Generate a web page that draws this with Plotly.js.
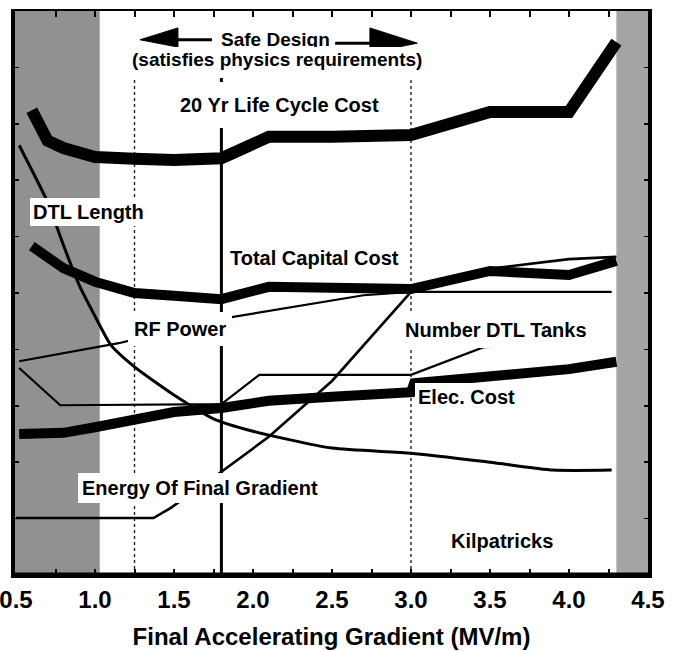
<!DOCTYPE html>
<html>
<head>
<meta charset="utf-8">
<script src="https://cdn.plot.ly/plotly-3.0.1.min.js"></script>
<style>
html,body{margin:0;padding:0;background:#ffffff;}
#chart{width:682px;height:651px;}
</style>
</head>
<body>
<div id="chart"></div>
<script>
// ---- data (x: MV/m, y: relative units, 0 = bottom, 100 = top) ----
const lifeCycleX = [0.6, 0.7, 0.8, 1.0, 1.25, 1.5, 1.8, 2.1, 2.5, 3.0, 3.5, 4.0, 4.3];
const lifeCycleY = [82.4, 77.0, 75.7, 74.1, 73.8, 73.6, 73.9, 77.7, 77.7, 78.0, 82.1, 82.1, 94.5];

const capitalX = [0.6, 0.8, 1.0, 1.25, 1.5, 1.8, 2.1, 2.5, 3.0, 3.5, 4.0, 4.3];
const capitalY = [58.3, 54.4, 52.0, 50.0, 49.5, 48.9, 51.1, 50.9, 50.7, 53.9, 53.2, 55.7];

const elecX = [0.52, 0.8, 1.0, 1.25, 1.5, 1.8, 2.1, 2.5, 3.0, 3.02, 3.5, 4.0, 4.3];
const elecY = [25.0, 25.2, 26.2, 27.5, 28.9, 29.6, 30.9, 31.6, 32.4, 34.0, 35.1, 36.5, 37.8];

const rfX = [0.52, 1.15, 1.75, 2.7, 3.0, 4.27];
const rfY = [37.9, 41.1, 45.2, 49.6, 50.2, 50.2];

const tanksX = [0.52, 0.78, 1.8, 2.04, 3.0, 3.46, 3.96, 4.05];
const tanksY = [36.7, 30.1, 30.3, 35.5, 35.5, 40.4, 40.8, 41.5];

const dtlX = [0.52, 0.6, 0.7, 0.8, 0.9, 1.0, 1.1, 1.25, 1.5, 1.75, 2.0, 2.5, 3.0, 3.5, 3.9, 4.27];
const dtlY = [76.2, 71.8, 66.1, 58.5, 51.4, 45.9, 40.8, 36.9, 31.9, 27.7, 25.5, 22.5, 21.6, 20.0, 18.6, 18.6];

const energyX = [0.5, 1.37, 1.48, 1.8, 2.1, 2.5, 3.0, 3.5, 4.0, 4.3];
const energyY = [10.1, 10.1, 11.9, 18.3, 24.5, 34.4, 50.2, 54.3, 56.0, 56.4];

const tickVals = [0.5, 0.75, 1.0, 1.25, 1.5, 1.75, 2.0, 2.25, 2.5, 2.75, 3.0, 3.25, 3.5, 3.75, 4.0, 4.25, 4.5];
const tickLabels = ['0.5', '', '1.0', '', '1.5', '', '2.0', '', '2.5', '', '3.0', '', '3.5', '', '4.0', '', '4.5'];

const safeDesignX = 1.8;       // solid vertical line
const boundaryX = [1.25, 3.0]; // dotted vertical lines
const shadeLeft = [0.49, 1.03];
const shadeRight = [4.3, 4.5];

// ---- drawing ----
const FONT = 'Liberation Sans, Arial, Helvetica, sans-serif';
const xRange = [0.4937, 4.5];

function line(x, y, w, shape) {
  return {x: x, y: y, type: 'scatter', mode: 'lines',
          line: {color: '#000000', width: w, shape: shape || 'linear', smoothing: 0.6},
          hoverinfo: 'skip', showlegend: false};
}

const traces = [
  line(dtlX, dtlY, 3, 'spline'),
  line(tanksX, tanksY, 2.2),
  line(rfX, rfY, 2.2),
  line(energyX, energyY, 2.6),
  line(elecX, elecY, 10),
  line(capitalX, capitalY, 10),
  line(lifeCycleX, lifeCycleY, 12)
];

const shapes = [
  {type: 'rect', xref: 'x', yref: 'y', x0: shadeLeft[0], x1: shadeLeft[1], y0: 0, y1: 100,
   fillcolor: '#919191', line: {width: 0}, layer: 'below'},
  {type: 'rect', xref: 'x', yref: 'y', x0: shadeRight[0], x1: shadeRight[1], y0: 0, y1: 100,
   fillcolor: '#a4a4a4', line: {width: 0}, layer: 'below'},
  {type: 'line', xref: 'x', yref: 'y', x0: boundaryX[0], x1: boundaryX[0], y0: 0, y1: 88.1,
   line: {color: '#222222', width: 1.4, dash: 'dot'}, layer: 'below'},
  {type: 'line', xref: 'x', yref: 'y', x0: boundaryX[1], x1: boundaryX[1], y0: 0, y1: 88.1,
   line: {color: '#222222', width: 1.4, dash: 'dot'}, layer: 'below'},
  {type: 'line', xref: 'x', yref: 'y', x0: safeDesignX, x1: safeDesignX, y0: 0, y1: 88.1,
   line: {color: '#000000', width: 3}, layer: 'below'},
  // arrows
  {type: 'path', xref: 'x', yref: 'y', path: 'M1.285,94.9 L1.525,97.0 L1.525,93.6 Z',
   fillcolor: '#000000', line: {color: '#000000', width: 1}},
  {type: 'line', xref: 'x', yref: 'y', x0: 1.52, x1: 1.74, y0: 94.9, y1: 94.9,
   line: {color: '#000000', width: 3}},
  {type: 'line', xref: 'x', yref: 'y', x0: 2.52, x1: 2.75, y0: 94.3, y1: 94.3,
   line: {color: '#000000', width: 3}},
  {type: 'path', xref: 'x', yref: 'y', path: 'M3.04,94.3 L2.74,97.0 L2.74,92.6 Z',
   fillcolor: '#000000', line: {color: '#000000', width: 1}},
  // heavy bottom frame
  {type: 'line', xref: 'paper', yref: 'paper', x0: 0, x1: 1, y0: 0, y1: 0,
   line: {color: '#000000', width: 5}}
];

function label(text, x, y, pad, size) {
  return {text: text, x: x, y: y, xref: 'x', yref: 'y', showarrow: false,
          xanchor: 'center', yanchor: 'middle',
          font: {family: FONT, size: size || 20, color: '#000000', weight: 'bold'},
          bgcolor: '#ffffff', borderpad: pad, borderwidth: 0};
}

const annotations = [
  label('Safe Design', 2.14, 95.0, 2, 19),
  label('(satisfies physics requirements)', 2.152, 91.4, 2, 19),
  label('20 Yr Life Cycle Cost', 2.17, 83.3, 12),
  label('DTL Length', 0.956, 64.4, 3),
  label('Total Capital Cost', 2.39, 56.2, 3),
  label('RF Power', 1.54, 43.6, 6),
  label('Number DTL Tanks', 3.54, 43.4, 7),
  label('Elec. Cost', 3.354, 31.6, 3),
  label('Energy Of Final Gradient', 1.665, 15.4, 4),
  label('Kilpatricks', 3.576, 6.0, 3)
];

const layout = {
  width: 682, height: 651,
  margin: {l: 15, r: 34, t: 11, b: 76, pad: 0},
  paper_bgcolor: '#ffffff', plot_bgcolor: '#ffffff',
  showlegend: false,
  xaxis: {
    range: xRange, showgrid: false, zeroline: false,
    showline: true, linecolor: '#000000', linewidth: 2.5, mirror: 'allticks',
    ticks: 'inside', ticklen: 6, tickwidth: 2, tickcolor: '#000000',
    tickmode: 'array', tickvals: tickVals, ticktext: tickLabels,
    tickfont: {family: FONT, size: 24, color: '#000000', weight: 'bold'},
    ticklabelstandoff: 2, ticklabeloverflow: 'allow',
    title: {text: 'Final Accelerating Gradient (MV/m)', standoff: 16,
            font: {family: FONT, size: 24, color: '#000000', weight: 'bold'}},
    fixedrange: true
  },
  yaxis: {
    range: [0, 100], showgrid: false, zeroline: false,
    showline: true, linecolor: '#000000', linewidth: 4, mirror: 'allticks',
    ticks: 'inside', ticklen: 4, tickwidth: 1.5, tickcolor: '#000000',
    dtick: 10, showticklabels: false, fixedrange: true
  },
  shapes: shapes,
  annotations: annotations
};

Plotly.newPlot('chart', traces, layout, {staticPlot: true, displayModeBar: false});
</script>
</body>
</html>
